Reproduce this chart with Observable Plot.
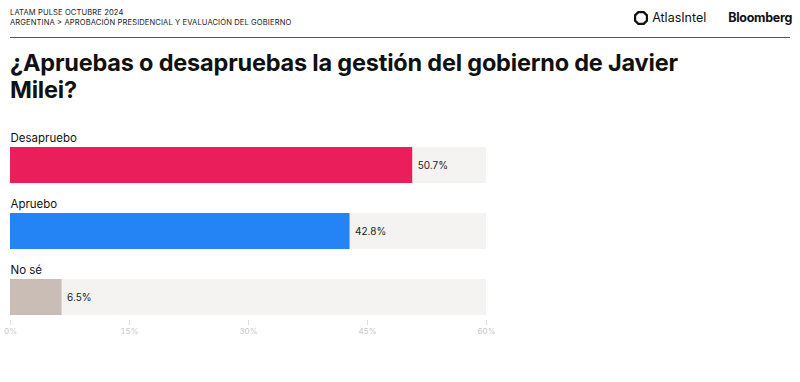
<!DOCTYPE html>
<html><head><meta charset="utf-8">
<script src="https://cdn.jsdelivr.net/npm/d3@7"></script>
<script src="https://cdn.jsdelivr.net/npm/@observablehq/plot@0.6"></script>
<style>
html,body{margin:0;padding:0;background:#fff;width:800px;height:382px;overflow:hidden;font-family:Inter,"Noto Sans",sans-serif;}
#kicker{position:absolute;left:10px;top:8px;font-size:7.6px;line-height:10px;color:#222;letter-spacing:0.1px;}
#rule{position:absolute;left:10px;top:37px;width:780px;height:1px;background:#555;}
#title{position:absolute;left:10px;top:49px;font-size:23.5px;line-height:27px;font-weight:700;color:#111;letter-spacing:-0.2px;}
#logos{position:absolute;right:8px;top:10px;display:flex;align-items:center;font-size:12.5px;color:#111;}
#atlas{display:flex;align-items:center;margin-right:22px;}
#atlas span{font-weight:400;margin-left:4px;}
#bb{font-weight:700;letter-spacing:-0.3px;}
#chart{position:absolute;left:0;top:120px;}
</style></head>
<body>
<div id="kicker">LATAM PULSE OCTUBRE 2024<br>ARGENTINA &gt; APROBACIÓN PRESIDENCIAL Y EVALUACIÓN DEL GOBIERNO</div>
<div id="logos"><div id="atlas"><svg width="14" height="14" viewBox="0 0 14 14"><polygon points="4.5,1 9.5,1 13,4.5 13,9.5 9.5,13 4.5,13 1,9.5 1,4.5" fill="none" stroke="#111" stroke-width="2.4"/></svg><span>AtlasIntel</span></div><div id="bb">Bloomberg</div></div>
<div id="rule"></div>
<div id="title">¿Apruebas o desapruebas la gestión del gobierno de Javier<br>Milei?</div>
<div id="chart"></div>
<script>
const categories = ["Desapruebo", "Apruebo", "No sé"];
const values = [50.7, 42.8, 6.5];
const colors = ["#e91e5a", "#2483f5", "#c9bdb6"];
const trackMax = 60;
const tickValues = [0, 15, 30, 45, 60];

const data = categories.map((c, i) => ({cat: c, value: values[i], color: colors[i], max: trackMax}));

const chart = Plot.plot({
  width: 800,
  height: 230,
  marginLeft: 10,
  marginRight: 314,
  marginTop: 0,
  marginBottom: 30,
  style: {fontFamily: "Inter, 'Noto Sans', sans-serif", background: "transparent"},
  x: {domain: [0, 60], axis: null},
  y: {domain: categories, range: [9, 207], paddingInner: 0, paddingOuter: 0, axis: null},
  marks: [
    Plot.barX(data, {x1: 0, x2: "max", y: "cat", fill: "#f4f3f1", insetTop: 18, insetBottom: 12}),
    Plot.barX(data, {x1: 0, x2: "value", y: "cat", fill: "color", insetTop: 18, insetBottom: 12}),
    Plot.text(data, {x: 0, y: "cat", text: "cat", textAnchor: "start", dy: -24, fontSize: 11.5, fill: "#111"}),
    Plot.text(data, {x: "value", y: "cat", text: d => d.value.toFixed(1) + "%", textAnchor: "start", dx: 5, dy: 3, fontSize: 10, fill: "#222"}),
    Plot.axisX(tickValues, {anchor: "bottom", tickSize: 5, tickPadding: 3, tickFormat: d => d + "%", fontSize: 8, color: "#c8c8c8", stroke: "#e0e0e0"})
  ]
});
document.getElementById("chart").appendChild(chart);
</script>
</body></html>
